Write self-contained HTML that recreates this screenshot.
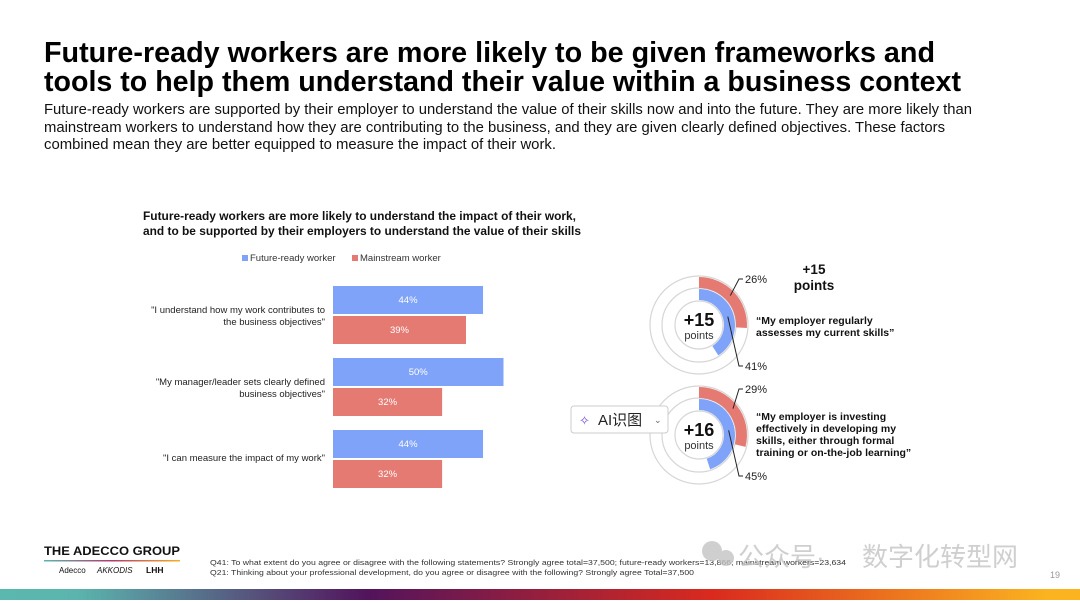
<!DOCTYPE html>
<html><head><meta charset="utf-8"><style>
body{margin:0;background:#fff;}
svg{display:block;font-family:"Liberation Sans","Noto Sans CJK SC",sans-serif;}
</style></head><body>
<svg id="root" width="1080" height="603" viewBox="0 0 1080 603">
<defs>
<linearGradient id="bg" x1="0" x2="1" y1="0" y2="0">
<stop offset="0" stop-color="#5bb8ae"/><stop offset="0.07" stop-color="#5bb5ae"/>
<stop offset="0.34" stop-color="#52145c"/><stop offset="0.66" stop-color="#da2a1e"/>
<stop offset="0.97" stop-color="#fbb41f"/><stop offset="1" stop-color="#fbb41f"/></linearGradient>
<linearGradient id="lg" x1="0" x2="1"><stop offset="0" stop-color="#5bb5ae"/><stop offset="0.5" stop-color="#b23a6e"/><stop offset="1" stop-color="#f6b021"/></linearGradient>
</defs>
<g font-weight="bold" font-size="29" fill="#000">
<text x="44" y="62" textLength="891" lengthAdjust="spacingAndGlyphs">Future-ready workers are more likely to be given frameworks and</text>
<text x="44" y="91" textLength="917" lengthAdjust="spacingAndGlyphs">tools to help them understand their value within a business context</text>
</g>
<g font-size="15" fill="#111">
<text x="44" y="114" textLength="928" lengthAdjust="spacingAndGlyphs">Future-ready workers are supported by their employer to understand the value of their skills now and into the future. They are more likely than</text>
<text x="44" y="132" textLength="901" lengthAdjust="spacingAndGlyphs">mainstream workers to understand how they are contributing to the business, and they are given clearly defined objectives. These factors</text>
<text x="44" y="149" textLength="512" lengthAdjust="spacingAndGlyphs">combined mean they are better equipped to measure the impact of their work.</text>
</g>
<g font-weight="bold" font-size="11.5" fill="#111">
<text x="143" y="220" textLength="433" lengthAdjust="spacingAndGlyphs">Future-ready workers are more likely to understand the impact of their work,</text>
<text x="143" y="235" textLength="438" lengthAdjust="spacingAndGlyphs">and to be supported by their employers to understand the value of their skills</text>
</g>
<g font-size="9.5" fill="#333">
<rect x="242" y="255" width="6" height="6" fill="#7fa3f8"/><text x="250" y="261">Future-ready worker</text>
<rect x="352" y="255" width="6" height="6" fill="#e57a72"/><text x="360" y="261">Mainstream worker</text>
</g>
<g id="bars"></g>
<g id="donuts"></g>
<g font-weight="bold" font-size="13.5" fill="#111" text-anchor="middle">
<text x="814" y="274">+15</text><text x="814" y="290">points</text></g>
<g font-weight="bold" font-size="10.5" fill="#111">
<text x="756" y="324">“My employer regularly</text><text x="756" y="336">assesses my current skills”</text></g>
<g font-weight="bold" font-size="10.5" fill="#111">
<text x="756" y="420">“My employer is investing</text><text x="756" y="432">effectively in developing my</text>
<text x="756" y="444">skills, either through formal</text><text x="756" y="456">training or on-the-job learning”</text></g>
<g>
<rect x="571" y="406" width="97" height="27" rx="3" fill="#fff" stroke="#ccc"/>
<text x="579" y="425" font-size="13" fill="#7a4bd6">✧</text>
<text x="598" y="425" font-size="15" fill="#222">AI识图</text>
<text x="654" y="423" font-size="9" fill="#666">⌄</text></g>
<g>
<text x="44" y="555" font-weight="bold" font-size="12" fill="#111" textLength="136" lengthAdjust="spacingAndGlyphs">THE ADECCO GROUP</text>
<rect x="44" y="560" width="136" height="1.5" fill="url(#lg)"/>
<text x="59" y="573" font-size="8" fill="#111">Adecco</text>
<text x="97" y="573" font-size="8" fill="#111" font-style="italic">AKKODIS</text>
<text x="146" y="573" font-size="8.5" font-weight="bold" fill="#111">LHH</text></g>
<g font-size="7.5" fill="#333">
<text x="210" y="565" textLength="636" lengthAdjust="spacingAndGlyphs">Q41: To what extent do you agree or disagree with the following statements? Strongly agree total=37,500; future-ready workers=13,866; mainstream workers=23,634</text>
<text x="210" y="575" textLength="484" lengthAdjust="spacingAndGlyphs">Q21: Thinking about your professional development, do you agree or disagree with the following? Strongly agree Total=37,500</text></g>
<g fill="#c4c4c4" opacity="0.8">
<circle cx="712" cy="551" r="10"/><circle cx="726" cy="558" r="8"/>
<text x="738" y="566" font-size="26">公众号·</text>
<text x="862" y="566" font-size="26">数字化转型网</text></g>
<text x="1050" y="578" font-size="9" fill="#999">19</text>
<rect x="0" y="589" width="1080" height="11" fill="url(#bg)"/>
</svg>
<script>
const NS="http://www.w3.org/2000/svg";
const categories=[["\"I understand how my work contributes to","the business objectives\""],["\"My manager/leader sets clearly defined","business objectives\""],["\"I can measure the impact of my work\""]];
const futureReady=[44,50,44];
const mainstream=[39,32,32];
const donutFuture=[41,45];
const donutMainstream=[26,29];
const donutPoints=["+15","+16"];
function mk(t,a,p){const e=document.createElementNS(NS,t);for(const k in a)e.setAttribute(k,a[k]);p.appendChild(e);return e;}
const x0=333,pxPer=3.41;
const xS=v=>x0+v*pxPer;
const bars=document.getElementById('bars');
categories.forEach((lab,i)=>{
 const top=286+i*72;
 const b=mk('rect',{x:x0,y:top,width:xS(futureReady[i])-x0,height:28,fill:'#7fa3f8'},bars);
 
 
 const r=mk('rect',{x:x0,y:top+30,width:xS(mainstream[i])-x0,height:28,fill:'#e57a72'},bars);
 
 
 const t1=mk('text',{x:(x0+xS(futureReady[i]))/2,y:top+17,'font-size':9.5,fill:'#fff','text-anchor':'middle'},bars);t1.textContent=futureReady[i]+'%';
 
 
 const t2=mk('text',{x:(x0+xS(mainstream[i]))/2,y:top+47,'font-size':9.5,fill:'#fff','text-anchor':'middle'},bars);t2.textContent=mainstream[i]+'%';
 
 
 const cy=lab.length===2?top+27:top+31;
 lab.forEach((l,j)=>{const t=mk('text',{x:325,y:cy+j*12,'font-size':9.5,fill:'#222','text-anchor':'end'},bars);t.textContent=l;
 
 });
});
const donuts=document.getElementById('donuts');
function arc(cx,cy,r1,r2,pct){
 const a=pct/100*2*Math.PI;const large=pct>50?1:0;
 const p=(r,ang)=>[cx+r*Math.sin(ang),cy-r*Math.cos(ang)];
 const [a1,b1]=p(r2,0),[a2,b2]=p(r2,a),[a3,b3]=p(r1,a),[a4,b4]=p(r1,0);
 return `M${a1},${b1}A${r2},${r2} 0 ${large} 1 ${a2},${b2}L${a3},${b3}A${r1},${r1} 0 ${large} 0 ${a4},${b4}Z`;
}
donutFuture.forEach((f,i)=>{
 const cx=699,cy=325+i*110;
 const g=mk('g',{},donuts);
 
 
 [49,37,24].forEach(r=>mk('circle',{cx,cy,r,fill:'none',stroke:'#d6d6d6','stroke-width':1.2},g));
 const m=mk('path',{d:arc(cx,cy,37,48,donutMainstream[i]),fill:'#e57a72'},g);
 
 
 const fr=mk('path',{d:arc(cx,cy,25,36,f),fill:'#7fa3f8'},g);
 
 
 const ma=donutMainstream[i]/200*2*Math.PI, fa=f/200*2*Math.PI;
 const mx=cx+43*Math.sin(ma),my=cy-43*Math.cos(ma);
 mk('polyline',{points:`${mx},${my} ${cx+40},${cy-46} ${cx+44},${cy-46}`,fill:'none',stroke:'#222','stroke-width':1},g);
 const lt=mk('text',{x:cx+46,y:cy-42,'font-size':11,fill:'#222'},g);lt.textContent=donutMainstream[i]+'%';
 const fx=cx+30*Math.sin(fa),fy=cy-30*Math.cos(fa);
 mk('polyline',{points:`${fx},${fy} ${cx+40},${cy+41} ${cx+44},${cy+41}`,fill:'none',stroke:'#222','stroke-width':1},g);
 const ft=mk('text',{x:cx+46,y:cy+45,'font-size':11,fill:'#222'},g);ft.textContent=f+'%';
 const p1=mk('text',{x:cx,y:cy+1,'font-size':18,'font-weight':'bold',fill:'#111','text-anchor':'middle'},g);p1.textContent=donutPoints[i];
 const p2=mk('text',{x:cx,y:cy+14,'font-size':11,fill:'#333','text-anchor':'middle'},g);p2.textContent='points';
});
</script>
</body></html>
